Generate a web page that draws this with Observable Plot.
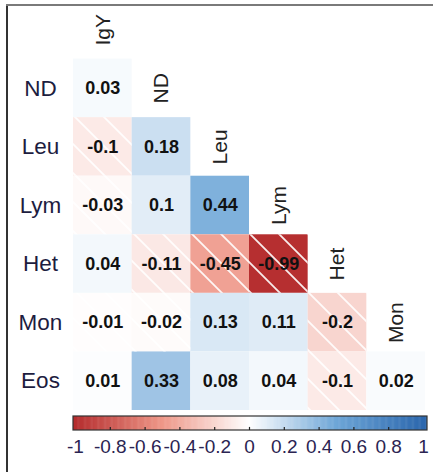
<!DOCTYPE html>
<html>
<head>
<meta charset="utf-8">
<script src="https://cdn.jsdelivr.net/npm/d3@7"></script>
<script src="https://cdn.jsdelivr.net/npm/@observablehq/plot@0.6"></script>
<style>
  html, body { margin: 0; padding: 0; background: #fff; }
  #wrap { position: relative; width: 433px; height: 472px; overflow: hidden; background: #fff; }
  #wrap svg { display: block; }
  .bl { position: absolute; left: 6px; top: 4px; width: 1.5px; height: 468px; background: #333; }
  .bt { position: absolute; left: 6px; top: 4px; width: 427px; height: 2px; background: #7a7a7a; }
</style>
</head>
<body>
<div id="wrap"><div class="bl"></div><div class="bt"></div></div>
<script>
// ---- data ----
const rows = ["ND", "Leu", "Lym", "Het", "Mon", "Eos"];
const cols = ["IgY", "ND", "Leu", "Lym", "Het", "Mon"];
const rowND  = [0.03];
const rowLeu = [-0.1, 0.18];
const rowLym = [-0.03, 0.1, 0.44];
const rowHet = [0.04, -0.11, -0.45, -0.99];
const rowMon = [-0.01, -0.02, 0.13, 0.11, -0.2];
const rowEos = [0.01, 0.33, 0.08, 0.04, -0.1, 0.02];
const rowValues = [rowND, rowLeu, rowLym, rowHet, rowMon, rowEos];
const colorTicks = [-1, -0.8, -0.6, -0.4, -0.2, 0, 0.2, 0.4, 0.6, 0.8, 1];
const colorStops = [-1, -0.5, 0, 0.5, 1];
const colorRange = ["#b52d2e", "#ee9788", "#ffffff", "#6ea6d7", "#2d68ae"];

// ---- build tables ----
const cells = [];
rowValues.forEach((vals, i) => vals.forEach((v, j) => cells.push({row: rows[i], col: cols[j], value: v})));
const yDomain = ["head", ...rows];
const colLabels = cols.map((c, j) => ({col: c, row: yDomain[j]}));

const font = "'Liberation Sans', Arial, sans-serif";
const colorOpts = {type: "linear", domain: colorStops, range: colorRange, interpolate: "rgb", clamp: true};

const matrix = Plot.plot({
  width: 433, height: 410,
  marginLeft: 73, marginRight: 8, marginTop: 0, marginBottom: 0,
  style: {fontFamily: font, background: "transparent"},
  x: {domain: cols, padding: 0, round: false, axis: null},
  y: {domain: yDomain, padding: 0, round: false, axis: null},
  color: colorOpts,
  marks: [
    Plot.cell(cells, {x: "col", y: "row", fill: "value"}),
    Plot.cell(cells.filter(d => d.value < 0), {x: "col", y: "row", fill: "url(#hatch)"}),
    Plot.text(cells, {x: "col", y: "row", text: d => String(d.value), fontWeight: "bold", fontSize: 18, fill: "#111"}),
    Plot.text(rows, {y: d => d, frameAnchor: "left", dx: -33, textAnchor: "middle", fontSize: 22.5, fill: "#1d1d3f"}),
    Plot.text(colLabels, {x: "col", y: "row", text: "col", rotate: -90, fontSize: 21, fill: "#222"})
  ]
});
d3.select(matrix).insert("defs", ":first-child").html(
  `<pattern id="hatch" patternUnits="userSpaceOnUse" width="29" height="29" patternTransform="translate(16,0)">
     <path d="M-3,-3 L32,32 M-3,26 L3,32 M26,-3 L32,3" stroke="#fff" stroke-width="1.8" stroke-opacity="0.9" fill="none"/>
   </pattern>`
);

// ---- colour bar ----
const step = 0.005;
const barExtent = [-1.0115, 1.023];
const grad = d3.range(barExtent[0], barExtent[1], step);
const innerTicks = colorTicks.filter(t => Math.abs(t) < 1);

const bar = Plot.plot({
  width: 433, height: 62,
  marginLeft: 75, marginRight: 10, marginTop: 6, marginBottom: 42,
  style: {fontFamily: font, background: "transparent"},
  x: {domain: [-1, 1], axis: null},
  y: {domain: [0, 1], axis: null},
  color: colorOpts,
  marks: [
    Plot.rect(grad, {x1: d => d, x2: d => Math.min(d + step * 1.6, barExtent[1]), y1: 0, y2: 1, fill: d => d + step / 2}),
    Plot.rect([barExtent], {x1: d => d[0], x2: d => d[1], y1: 0, y2: 1, fill: "none", stroke: "#333", strokeWidth: 1.2}),
    Plot.ruleX(innerTicks, {x: d => d, y1: 0, y2: 0.22, stroke: "#222", strokeWidth: 1.2}),
    Plot.text(colorTicks, {x: d => d, text: d => String(d), frameAnchor: "bottom", dy: 22, fontSize: 19, fill: "#2b2452"})
  ]
});

const wrap = document.getElementById("wrap");
wrap.insertBefore(bar, wrap.firstChild);
wrap.insertBefore(matrix, wrap.firstChild);
</script>
</body>
</html>
